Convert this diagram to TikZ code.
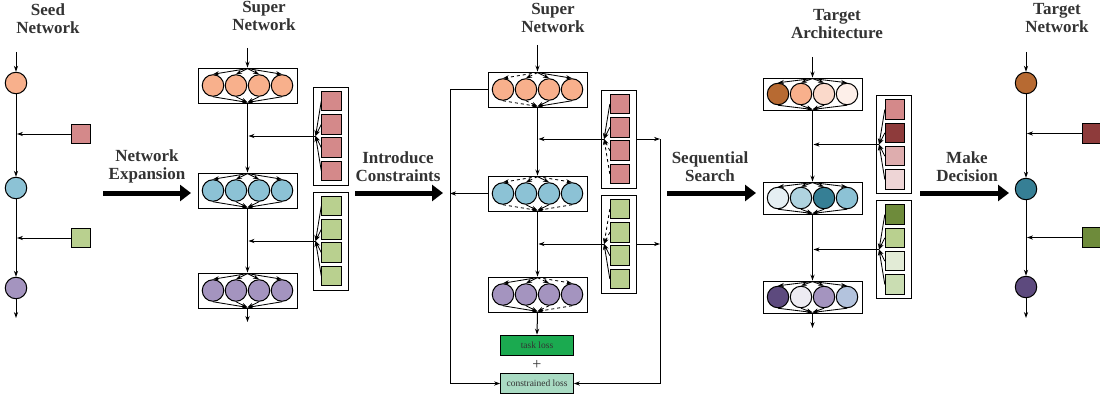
\documentclass[tikz,border=0pt]{standalone}
\usepackage{fontspec}
\setmainfont{Liberation Serif}
\usetikzlibrary{arrows.meta,calc}

\definecolor{peach}{HTML}{F8B08C}
\definecolor{skyblue}{HTML}{8CC2D5}
\definecolor{lavender}{HTML}{A494BF}
\definecolor{rose}{HTML}{D4898A}
\definecolor{sage}{HTML}{B9D08F}
\definecolor{burnt}{HTML}{B76A32}
\definecolor{peachlight}{HTML}{FAD9CA}
\definecolor{peachpale}{HTML}{FDEFE9}
\definecolor{ice}{HTML}{E5EFF3}
\definecolor{bluelight}{HTML}{AFD3DF}
\definecolor{teal}{HTML}{367F95}
\definecolor{plum}{HTML}{5D4A7E}
\definecolor{lilacpale}{HTML}{EDEBF2}
\definecolor{periwinkle}{HTML}{B3C3DD}
\definecolor{wine}{HTML}{8E3B3B}
\definecolor{rosepale}{HTML}{DEADAE}
\definecolor{roseblush}{HTML}{EED5D6}
\definecolor{olive}{HTML}{6E8B3B}
\definecolor{sagepale}{HTML}{E2EBD6}
\definecolor{sagelight}{HTML}{CADDB2}
\definecolor{taskgreen}{HTML}{1BAA50}
\definecolor{mint}{HTML}{A9DBC3}
\definecolor{inkgray}{HTML}{333333}

\tikzset{
  neuron/.style={circle, draw, line width=1pt, minimum size=21.5pt, inner sep=0pt},
  param/.style={rectangle, draw, line width=0.9pt, minimum size=19.5pt, inner sep=0pt},
  frame/.style={rectangle, draw, line width=0.9pt, fill=white, inner sep=0pt},
  flow/.style={line width=1pt, -{Stealth[length=6pt,width=4.2pt]}},
  fan/.style={line width=0.85pt, -{Stealth[length=6pt,width=4.2pt]}},
  stage/.style={line width=5pt, -{Triangle[length=11pt,width=16pt]}},
  heading/.style={font=\bfseries\fontsize{17}{18}\selectfont, align=center, text=inkgray},
  losstext/.style={font=\fontsize{9.5}{10}\selectfont, text=inkgray},
}

% a layer of candidate operations: name, centre x, centre y, frame height,
% list of fill/top-edge style/bottom-edge style
\newcommand{\nnlayer}[5]{%
  \node[frame, minimum width=99pt, minimum height=#4] (#1) at (#2,#3) {};
  \foreach \col/\ts/\bs [count=\i] in {#5} {
    \node[neuron, fill=\col] (#1-\i) at ({#2+(\i-2.5)*23}, #3) {};
    \draw[fan,\ts] ($(#1.north)+(0,1)$) -- (#1-\i.north);
    \draw[fan,\bs] (#1-\i.south) -- ($(#1.south)+(0,-1)$);
  }
}
% a column of candidate parameters: name, centre x, centre y, list of fill/edge style
\newcommand{\paramcol}[4]{%
  \node[frame, minimum width=35pt, minimum height=98pt] (#1) at (#2,#3) {};
  \coordinate (#1-f) at ($(#1.west)+(3,0)$);
  \foreach \col/\es [count=\i] in {#4} {
    \node[param, fill=\col] (#1-\i) at (#2+1, {#3+(\i-2.5)*23.3}) {};
    \draw[fan,\es] (#1-\i.west) -- (#1-f);
  }
}

\begin{document}
\begin{tikzpicture}[x=1pt,y=-1pt]
\useasboundingbox (0,0) rectangle (1100,396);

% ---------------- seed network ----------------
\node[heading] (tseed) at (48,18.5) {Seed\\Network};
\coordinate (a0) at (16,52);
\node[neuron, fill=peach] (a1) at (16,83) {};
\node[neuron, fill=skyblue] (a2) at (16,188) {};
\node[neuron, fill=lavender] (a3) at (16,288) {};
\coordinate (a4) at (16,318);
\draw[flow] (a0) -- (a1);
\draw[flow] (a1) -- (a2);
\draw[flow] (a2) -- (a3);
\draw[flow] (a3) -- (a4);
\node[param, fill=rose] (ap1) at (81,134) {};
\node[param, fill=sage] (ap2) at (81,238) {};
\coordinate (ab1) at (17,134);
\coordinate (ab2) at (17,238);
\draw[flow] (ap1.west) -- (ab1);
\draw[flow] (ap2.west) -- (ab2);

% ---------------- stage arrows ----------------
\coordinate (e1s) at (103,193); \coordinate (e1e) at (191,193);
\draw[stage] (e1s) -- (e1e);
\node[heading] (t1) at (147,166.5) {Network\\Expansion};

\coordinate (e2s) at (355,193); \coordinate (e2e) at (443,193);
\draw[stage] (e2s) -- (e2e);
\node[heading] (t2) at (398,166.5) {Introduce\\Constraints};

\coordinate (e3s) at (667,193); \coordinate (e3e) at (756,193);
\draw[stage] (e3s) -- (e3e);
\node[heading] (t3) at (710,166.5) {Sequential\\Search};

\coordinate (e4s) at (920,193); \coordinate (e4e) at (1009,193);
\draw[stage] (e4s) -- (e4e);
\node[heading] (t4) at (967,166.5) {Make\\Decision};

% ---------------- super network ----------------
\node[heading] (tsup1) at (264,16) {Super\\Network};
\nnlayer{b1}{247.5}{85.5}{35pt}{peach/solid/solid,peach/solid/solid,peach/solid/solid,peach/solid/solid}
\nnlayer{b2}{247.5}{190.5}{35pt}{skyblue/solid/solid,skyblue/solid/solid,skyblue/solid/solid,skyblue/solid/solid}
\nnlayer{b3}{247.5}{290.5}{35pt}{lavender/solid/solid,lavender/solid/solid,lavender/solid/solid,lavender/solid/solid}
\coordinate (b0) at (247.5,48);
\coordinate (b4) at (247.5,322);
\draw[flow] (b0) -- (b1.north);
\draw[flow] (b1.south) -- (b2.north);
\draw[flow] (b2.south) -- (b3.north);
\draw[flow] (b3.south) -- (b4);
\paramcol{br}{330.5}{136}{rose/solid,rose/solid,rose/solid,rose/solid}
\paramcol{bg}{330.5}{241}{sage/solid,sage/solid,sage/solid,sage/solid}
\coordinate (bj1) at (248.5,136);
\coordinate (bj2) at (248.5,241);
\draw[flow] (br-f) -- (bj1);
\draw[flow] (bg-f) -- (bj2);

% ---------------- constrained super network ----------------
\node[heading] (tsup2) at (553,18) {Super\\Network};
\nnlayer{c1}{537.5}{89.5}{35pt}{peach/dashed/dashed,peach/dashed/dashed,peach/solid/solid,peach/solid/solid}
\nnlayer{c2}{537.5}{193.5}{35pt}{skyblue/dashed/dashed,skyblue/dashed/solid,skyblue/solid/solid,skyblue/dashed/dashed}
\nnlayer{c3}{537.5}{294.5}{35pt}{lavender/solid/solid,lavender/solid/solid,lavender/dashed/dashed,lavender/dashed/dashed}
\coordinate (c0) at (537.5,45);
\draw[flow] (c0) -- (c1.north);
\draw[flow] (c1.south) -- (c2.north);
\draw[flow] (c2.south) -- (c3.north);
\node[draw, line width=0.7pt, fill=taskgreen, minimum width=73pt, minimum height=20pt, inner sep=0pt, losstext] (task) at (537,345) {task loss};
\node[font=\fontsize{16}{16}\selectfont, text=inkgray] (plus) at (537,364.5) {+};
\node[draw, line width=0.7pt, fill=mint, minimum width=73pt, minimum height=20pt, inner sep=0pt, losstext] (closs) at (537,383.5) {constrained loss};
\draw[flow] (c3.south) -- (task.north);
\paramcol{cr}{619}{139}{rose/solid,rose/solid,rose/dashed,rose/dashed}
\paramcol{cg}{619}{244}{sage/dashed,sage/dashed,sage/solid,sage/solid}
\coordinate (cj1) at (538.5,139);
\coordinate (cj2) at (538.5,244);
\draw[flow] (cr-f) -- (cj1);
\draw[flow] (cg-f) -- (cj2);
% constraint paths to the loss
\coordinate (rk1) at (660,139);
\coordinate (rk2) at (660,244);
\coordinate (rk3) at (660,383.5);
\draw[flow] (cr.east) -- (rk1);
\draw[flow] (cg.east) -- (rk2);
\draw[flow] (rk1) -- (rk3) -- (closs.east);
\coordinate (lk1) at (450,89.5);
\coordinate (lk2) at (450,193.5);
\coordinate (lk3) at (450,383.5);
\draw[flow] (c1.west) -- (lk1) -- (lk3) -- (closs.west);
\draw[flow] (c2.west) -- (lk2);

% ---------------- target architecture ----------------
\node[heading] (tarch) at (837,24.5) {Target\\Architecture};
\nnlayer{d1}{812.5}{94}{32pt}{burnt/solid/solid,peach/solid/solid,peachlight/solid/solid,peachpale/solid/solid}
\nnlayer{d2}{812.5}{198}{32pt}{ice/solid/solid,bluelight/solid/solid,teal/solid/solid,skyblue/solid/solid}
\nnlayer{d3}{812.5}{297}{32pt}{plum/solid/solid,lilacpale/solid/solid,lavender/solid/solid,periwinkle/solid/solid}
\coordinate (d0) at (812.5,57);
\coordinate (d4) at (812.5,328);
\draw[flow] (d0) -- (d1.north);
\draw[flow] (d1.south) -- (d2.north);
\draw[flow] (d2.south) -- (d3.north);
\draw[flow] (d3.south) -- (d4);
\paramcol{dr}{894}{144.5}{rose/solid,wine/solid,rosepale/solid,roseblush/solid}
\paramcol{dg}{894}{249.5}{olive/solid,sage/solid,sagepale/solid,sagelight/solid}
\coordinate (dj1) at (813.5,144.5);
\coordinate (dj2) at (813.5,249.5);
\draw[flow] (dr-f) -- (dj1);
\draw[flow] (dg-f) -- (dj2);

% ---------------- target network ----------------
\node[heading] (ttgt) at (1057,18.5) {Target\\Network};
\coordinate (g0) at (1026,52);
\node[neuron, fill=burnt] (g1) at (1026,83) {};
\node[neuron, fill=teal] (g2) at (1026,189) {};
\node[neuron, fill=plum] (g3) at (1026,287) {};
\coordinate (g4) at (1026,318);
\draw[flow] (g0) -- (g1);
\draw[flow] (g1) -- (g2);
\draw[flow] (g2) -- (g3);
\draw[flow] (g3) -- (g4);
\node[param, fill=wine] (gp1) at (1092,133.5) {};
\node[param, fill=olive] (gp2) at (1092,237.5) {};
\coordinate (gb1) at (1027,133.5);
\coordinate (gb2) at (1027,237.5);
\draw[flow] (gp1.west) -- (gb1);
\draw[flow] (gp2.west) -- (gb2);
\end{tikzpicture}
\end{document}
